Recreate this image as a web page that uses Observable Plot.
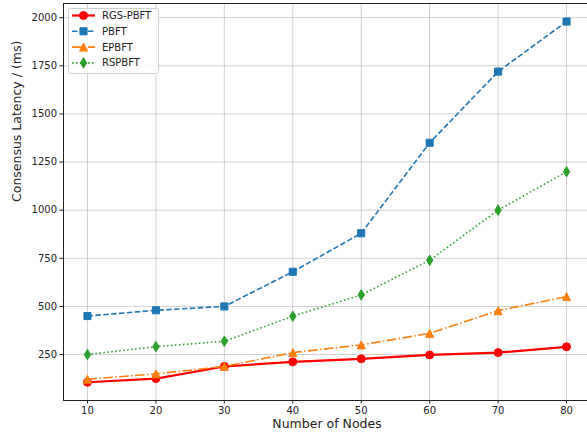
<!DOCTYPE html>
<html><head><meta charset="utf-8">
<script src="https://cdn.jsdelivr.net/npm/d3@7"></script>
<script src="https://cdn.jsdelivr.net/npm/@observablehq/plot@0.6"></script>
<style>
html,body{margin:0;padding:0;background:#fff;overflow:hidden}
#wrap{position:relative;width:587px;height:439px;overflow:hidden}
#legend{position:absolute;left:68px;top:8px}
</style></head><body><div id="wrap"></div>
<script>
// ---- data ----
const nodes = [10, 20, 30, 40, 50, 60, 70, 80];
const rgsPbft = [106, 125, 188, 212, 228, 248, 260, 290];
const pbft = [450, 480, 500, 680, 880, 1350, 1720, 1980];
const epbft = [122, 150, 188, 260, 300, 360, 478, 551];
const rspbft = [250, 291, 319, 449, 560, 740, 1000, 1200];
const seriesNames = ["RGS-PBFT", "PBFT", "EPBFT", "RSPBFT"];
const xTicks = [10, 20, 30, 40, 50, 60, 70, 80];
const yTicks = [250, 500, 750, 1000, 1250, 1500, 1750, 2000];
const xLabel = "Number of Nodes";
const yLabel = "Consensus Latency / (ms)";

// thin diamond like matplotlib 'd'
const thinDiamond = {
  draw(ctx, size) {
    const r = Math.sqrt(size / Math.PI);
    const h = r * 1.3, w = r * 0.8;
    ctx.moveTo(0, -h); ctx.lineTo(w, 0); ctx.lineTo(0, h); ctx.lineTo(-w, 0); ctx.closePath();
  }
};
const triUp = {
  draw(ctx, size) {
    const r = Math.sqrt(size / Math.PI);
    ctx.moveTo(0, -r); ctx.lineTo(r, r); ctx.lineTo(-r, r); ctx.closePath();
  }
};

const styles = [
  {color: "#ff0000", width: 2.2, dash: null, symbol: "circle", r: 4},
  {color: "#1f77b4", width: 1.6, dash: "5.5,2.4", symbol: "square", r: 4},
  {color: "#ff7f0e", width: 1.6, dash: "9.6,2.4,1.5,2.4", symbol: triUp, r: 4},
  {color: "#2ca02c", width: 1.6, dash: "1.5,2.5", symbol: thinDiamond, r: 4}
];
const valuesList = [rgsPbft, pbft, epbft, rspbft];

const seriesMarks = [];
seriesNames.forEach((name, i) => {
  const rows = nodes.map((n, j) => ({x: n, y: valuesList[i][j], s: name}));
  const st = styles[i];
  seriesMarks.push(Plot.line(rows, {x: "x", y: "y", stroke: st.color, strokeWidth: st.width,
    strokeDasharray: st.dash, strokeLinecap: "butt", strokeLinejoin: "round"}));
  seriesMarks.push(Plot.dot(rows, {x: "x", y: "y", symbol: () => st.symbol, r: st.r,
    fill: st.color, stroke: st.color, strokeWidth: 1}));
});

const chart = Plot.plot({
  width: 587,
  height: 439,
  marginLeft: 63,
  marginTop: 3,
  marginBottom: 39,
  marginRight: -3,
  style: {fontFamily: "DejaVu Sans", fontSize: "10px", color: "#222", background: "#fff"},
  x: {domain: [6.5, 83.5], range: [63, 590]},
  y: {domain: [11.25, 2073.75], range: [400, 3]},
  symbol: {type: "identity"},
  marks: [
    Plot.gridX(xTicks, {stroke: "#b0b0b0", strokeOpacity: 0.6, strokeWidth: 1}),
    Plot.gridY(yTicks, {stroke: "#b0b0b0", strokeOpacity: 0.6, strokeWidth: 1}),
    ...seriesMarks,
    Plot.axisX(xTicks, {tickSize: 3.5, tickPadding: 3, fontSize: 10, label: null, stroke: "#222", tickFormat: d => String(d)}),
    Plot.axisY(yTicks, {tickSize: 3.5, tickPadding: 3, fontSize: 10, label: null, stroke: "#222", tickFormat: d => String(d)}),
    Plot.frame({stroke: "#222", strokeWidth: 1}),
    Plot.text([xLabel], {frameAnchor: "bottom", dy: 27, fontSize: 12.5, fill: "#222"}),
    Plot.text([yLabel], {frameAnchor: "left", dx: -47, rotate: -90, fontSize: 12.5, fill: "#222"})
  ]
});
document.getElementById("wrap").appendChild(chart);

// ---- legend overlay ----
const lw = 91, lh = 66;
const leg = d3.select("#wrap").append("svg").attr("id", "legend")
  .attr("width", lw).attr("height", lh)
  .style("font-family", "DejaVu Sans").style("font-size", "10px");
leg.append("rect").attr("x", 0.5).attr("y", 0.5).attr("width", lw - 1).attr("height", lh - 1)
  .attr("rx", 2).attr("fill", "#fff").attr("fill-opacity", 0.85).attr("stroke", "#d0d0d0");
seriesNames.forEach((name, i) => {
  const st = styles[i];
  const cy = 7.5 + i * 15.8;
  const g = leg.append("g");
  g.append("line").attr("x1", 4).attr("x2", 27).attr("y1", cy).attr("y2", cy)
    .attr("stroke", st.color).attr("stroke-width", st.width)
    .attr("stroke-dasharray", st.dash);
  const sym = typeof st.symbol === "string"
    ? (st.symbol === "circle" ? d3.symbolCircle : d3.symbolSquare) : st.symbol;
  g.append("path").attr("d", d3.symbol(sym, Math.PI * st.r * st.r)())
    .attr("transform", `translate(15.5,${cy})`).attr("fill", st.color).attr("stroke", st.color);
  g.append("text").attr("x", 34).attr("y", cy).attr("dy", "0.35em").attr("fill", "#222").text(name);
});
</script></body></html>
